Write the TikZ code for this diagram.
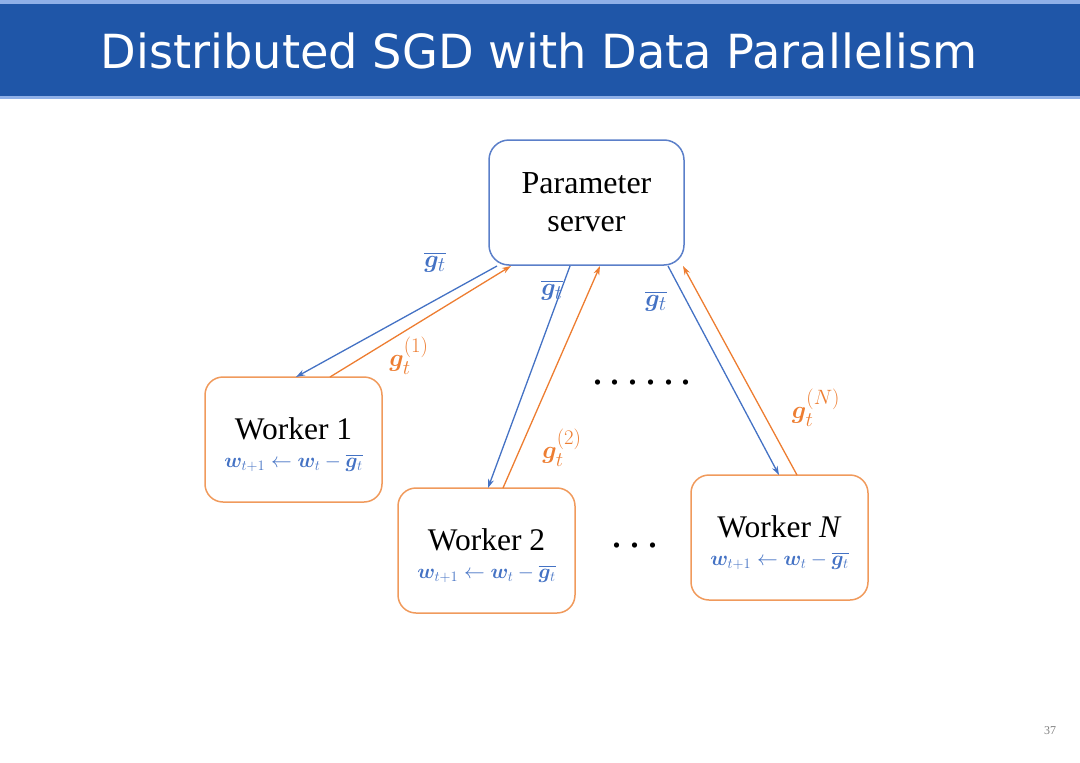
\documentclass[tikz,border=0pt]{standalone}
\usepackage{amsmath,bm}
\usepackage{fontspec}
\setmainfont{Liberation Serif}
\newfontfamily\titlefont{DejaVu Sans}
\usetikzlibrary{arrows.meta}
\definecolor{hdrblue}{HTML}{1F56A8}
\definecolor{hdrlight}{HTML}{8FB0E8}
\definecolor{srvblue}{HTML}{5B7FC9}
\definecolor{arrblue}{HTML}{4472C4}
\definecolor{arrorange}{HTML}{ED7D31}
\definecolor{boxorange}{HTML}{F09A5C}
\newcommand{\dotrow}[1]{\foreach \i in {1,...,#1}{\ifnum\i>1\hspace{6.8pt}\fi.}}
\tikzset{
  server/.style={draw=srvblue, line width=1.5pt, rounded corners=20pt, minimum width=195pt, minimum height=125pt, align=center, font=\fontsize{32}{38}\selectfont},
  worker/.style={draw=boxorange, line width=1.5pt, rounded corners=18pt, minimum width=177pt, minimum height=125pt},
  down/.style={draw=arrblue, line width=1.3pt, -{Stealth[length=9pt,width=6pt]}},
  up/.style={draw=arrorange, line width=1.3pt, -{Stealth[length=9pt,width=6pt]}},
  gbar/.style={text=arrblue, font=\fontsize{32}{34}\selectfont},
  gi/.style={text=arrorange, font=\fontsize{32}{34}\selectfont},
  wtitle/.style={font=\fontsize{31.5}{34}\selectfont},
  wrule/.style={text=arrblue, font=\fontsize{20}{22}\selectfont},
  dots/.style={font=\fontsize{44}{44}\selectfont, inner sep=0pt},
}
\begin{document}
\begin{tikzpicture}[x=1pt,y=-1pt]
\useasboundingbox (0,0) rectangle (1080,763);
% header
\fill[hdrlight] (0,0) rectangle (1080,4);
\fill[hdrblue] (0,4) rectangle (1080,96);
\fill[hdrlight] (0,96) rectangle (1080,99);
\node[text=white, font=\titlefont\fontsize{47}{52}\selectfont, xscale=0.985] (title) at (539,51) {Distributed SGD with Data Parallelism};
% nodes
\node[server] (ps) at (586.5,202.5) {Parameter\\server};
\node[worker] (w1) at (293.5,439.5) {};
\node[worker] (w2) at (486.5,550.5) {};
\node[worker] (wn) at (779.5,537.5) {};
\node[wtitle] (w1t) at (293.5,429) {Worker 1};
\node[wrule] (w1r) at (293.5,463) {$\bm{w}_{t+1}\leftarrow\bm{w}_t-\overline{\bm{g}_t}$};
\node[wtitle] (w2t) at (486.5,540) {Worker 2};
\node[wrule] (w2r) at (486.5,574) {$\bm{w}_{t+1}\leftarrow\bm{w}_t-\overline{\bm{g}_t}$};
\node[wtitle] (wnt) at (779.5,527) {Worker \textit{N}};
\node[wrule] (wnr) at (779.5,561) {$\bm{w}_{t+1}\leftarrow\bm{w}_t-\overline{\bm{g}_t}$};
% anchor coordinates
\coordinate (s1a) at (497,266);
\coordinate (s1b) at (511,266);
\coordinate (s2a) at (570,266);
\coordinate (s2b) at (600,266);
\coordinate (s3a) at (668,266);
\coordinate (s3b) at (683,266);
\coordinate (w1a) at (296,377);
\coordinate (w1b) at (330,377);
\coordinate (w2a) at (488,488);
\coordinate (w2b) at (503,488);
\coordinate (wna) at (779,475);
\coordinate (wnb) at (797,475);
\draw[down] (s1a) -- (w1a);
\draw[up] (w1b) -- (s1b);
\draw[down] (s2a) -- (w2a);
\draw[up] (w2b) -- (s2b);
\draw[down] (s3a) -- (wna);
\draw[up] (wnb) -- (s3b);
% labels
\node[gbar] (l1) at (435,262) {$\overline{\bm{g}_t}$};
\node[gbar] (l2) at (552,290) {$\overline{\bm{g}_t}$};
\node[gbar] (l3) at (656,301) {$\overline{\bm{g}_t}$};
\node[gi] (o1) at (409,356) {$\bm{g}_t^{(1)}$};
\node[gi] (o2) at (562,448) {$\bm{g}_t^{(2)}$};
\node[gi] (o3) at (816,408) {$\bm{g}_t^{(N)}$};
% dots
\node[dots] (d1) at (642,383) {\dotrow{6}};
\node[dots] (d2) at (635,546) {\dotrow{3}};
% page number
\node[text=gray, font=\fontsize{12}{14}\selectfont] (pg) at (1050,731) {37};
\end{tikzpicture}
\end{document}
